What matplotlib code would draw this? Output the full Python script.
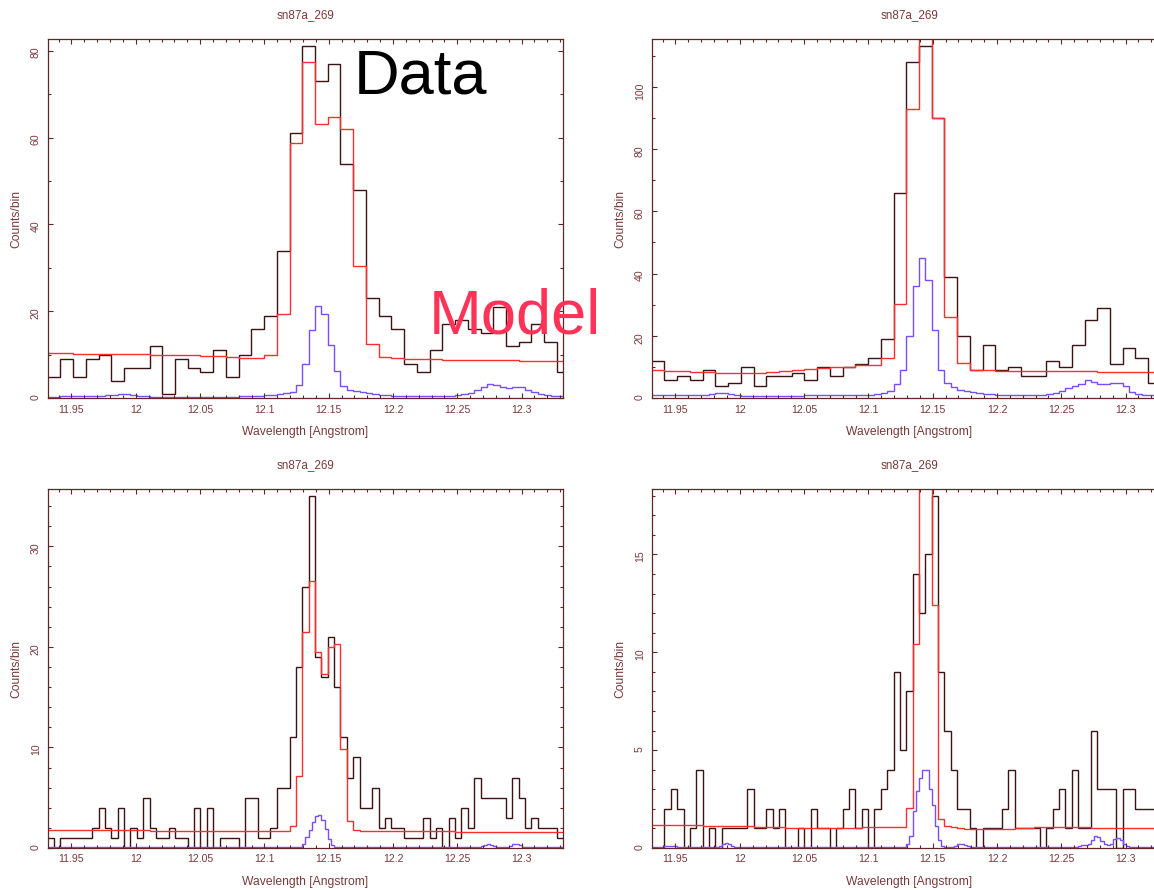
import numpy as np
import matplotlib.pyplot as plt
from matplotlib.ticker import FixedLocator, MultipleLocator

plt.rcParams['font.family'] = ['Liberation Sans', 'DejaVu Sans']

# wavelength grid (Angstrom)
wl_start = 11.9315
wl_stop = 12.332
top_bin = 0.0099            # data bins, upper panels
bottom_bin = top_bin / 2    # data bins, lower panels

title = "sn87a_269"
x_ticks = [11.95, 12.0, 12.05, 12.1, 12.15, 12.2, 12.25, 12.3]
x_tick_labels = ["11.95", "12", "12.05", "12.1", "12.15", "12.2", "12.25", "12.3"]

# upper left
data1 = [5, 9, 5, 9, 10, 4, 7, 7, 12, 1, 9, 7, 6, 11, 5, 10, 16, 19, 34, 61, 81,
         73, 77, 54, 48, 23, 19, 16, 8, 6, 11, 17, 18, 16, 15, 21, 12, 13, 17, 13, 6]
model1 = [10.4, 10.4, 10.3, 10.3, 10.2, 10.2, 10.1, 10.1, 10.0, 10.0, 9.9, 9.9, 9.8,
          9.7, 9.6, 9.3, 9.3, 10.0, 19.4, 58.7, 77.3, 63, 64.8, 62, 30.4, 12.5, 9.6,
          9.2, 9.1, 9.0, 9.0, 8.9, 8.9, 8.8, 8.8, 8.7, 8.7, 8.6, 8.6, 8.5, 8.5]
line1 = [0.4, 0.4, 0.5, 0.5, 0.5, 0.5, 0.5, 0.5, 0.6, 0.7,
         0.8, 1.0, 0.9, 0.7,
         0.5, 0.5, 0.4, 0.4, 0.4, 0.4, 0.4, 0.4, 0.4, 0.4,
         0.4, 0.4, 0.4, 0.4, 0.4, 0.4, 0.5, 0.5, 0.5, 0.6,
         0.7, 0.8,
         0.9, 1.2, 1.5, 3, 8, 15.8, 21.3, 19.4, 12.3, 6.2, 2.8, 1.9, 1.6, 1.4,
         1.2, 1.0, 0.8, 0.7, 0.6, 0.5, 0.5, 0.5, 0.5, 0.5, 0.5, 0.5,
         0.5, 0.6, 0.8, 0.9, 1.2, 1.8, 2.7, 3.2, 3.0, 2.5,
         2.3, 2.5, 2.7, 2.0, 1.5, 1.1, 0.7, 0.5, 0.5, 0.5]

# upper right
data2 = [12, 6, 7, 6, 9, 4, 5, 10, 4, 7, 7, 8, 6, 10, 7, 10, 11, 13, 19, 66, 108,
         113, 90, 39, 20, 9, 17, 9, 10, 7, 7, 12, 10, 17, 25, 29, 11, 16, 13, 5, 8]
model2 = [9.1, 8.9, 8.7, 8.5, 8.3, 8.1, 8.0, 8.0, 8.2, 8.5, 8.8, 9.1, 9.3, 9.6, 9.9,
          10.2, 10.6, 10.8, 12.8, 30.3, 92.7, 130, 90, 26.2, 11.2, 9.1,
          9.0, 8.9, 8.9, 8.8, 8.8, 8.7, 8.7, 8.6, 8.6, 8.5, 8.5, 8.4, 8.4, 8.3, 8.3]
line2 = [1.2, 1.2, 1.1, 1.1, 1.0, 1.0, 1.0, 1.0, 1.2, 1.4,
         1.6, 1.7, 1.5, 1.2,
         0.8, 0.8, 0.8, 0.8, 0.8, 0.8, 0.8, 0.8, 0.8, 0.8,
         0.9, 0.9, 0.9, 0.9, 1.0, 1.0, 1.0, 1.0, 1.1, 1.1,
         1.1, 1.4,
         1.8, 2.5, 4.5, 9, 20, 36, 45, 38, 22, 9, 5, 3.7, 2.7, 2.2,
         2.0, 1.6, 1.4, 1.3, 1.2, 1.1, 1.1, 1.1, 1.1, 1.1, 1.1, 1.2,
         1.4, 1.8, 2.4, 3.2, 4.0, 4.5, 6.0, 5.3, 4.6, 4.6,
         5.0, 5.0, 4.0, 2.1, 1.4, 1.1, 1.1, 1.1, 1.1, 1.1]

# lower left
data3 = [1, 0, 1, 1, 1, 1, 1, 2, 4, 2, 1, 4, 0, 2, 1, 5, 2, 1, 1, 2,
         1, 1, 0, 4, 0, 4, 0, 1, 1, 1, 0, 5, 5, 1, 1, 2, 6, 6, 11, 18,
         26, 35, 19, 17, 21, 16, 11, 7, 9, 4, 4, 6, 2, 3, 2, 2, 1, 1, 1, 3,
         1, 2, 0, 3, 1, 4, 2, 7, 5, 5, 5, 5, 3, 7, 5, 2, 3, 2, 2, 2, 1]
model3 = [1.82, 1.82, 1.81, 1.81, 1.80, 1.80, 1.79, 1.79, 1.78, 1.78, 1.77, 1.77,
          1.76, 1.76, 1.75, 1.75, 1.74, 1.74, 1.73, 1.73, 1.73, 1.72, 1.72, 1.72,
          1.71, 1.71, 1.71, 1.70, 1.70, 1.70, 1.70, 1.70, 1.70, 1.70, 1.70, 1.70,
          1.70, 1.72,
          2.2, 7.2, 21.5, 26.6, 19.5, 17.3, 20.0, 20.3, 9.8, 2.7,
          1.75, 1.72, 1.70, 1.70, 1.69, 1.69, 1.68, 1.68, 1.67, 1.67, 1.66, 1.66,
          1.66, 1.65, 1.65, 1.65, 1.64, 1.64, 1.64, 1.63, 1.63, 1.63, 1.62, 1.62,
          1.62, 1.61, 1.61, 1.61, 1.60, 1.60, 1.60, 1.60, 1.60]
line3 = ([0.05] * 80
         + [0.4, 1.1, 1.8, 2.6, 3.2, 3.3, 2.8, 1.9, 0.9, 0.3, 0.1]
         + [0.05] * 5 + [0.12, 0.12, 0.12] + [0.05] * 37
         + [0.15, 0.3, 0.4, 0.3, 0.15] + [0.05] * 4
         + [0.15, 0.35, 0.4, 0.25, 0.1] + [0.05] * 12)

# lower right
data4 = [0, 0, 2, 3, 2, 0, 1, 4, 0, 1, 0, 1, 1, 1, 1, 3, 1, 1, 2, 1,
         2, 0, 0, 1, 0, 2, 1, 1, 0, 1, 2, 3, 1, 2, 0,
         2, 3, 4, 9, 5, 8, 14, 12, 15, 18, 9, 6, 4, 2, 2,
         1, 0, 1, 1, 1, 2, 4, 1, 1, 1, 1, 0, 1, 2, 3, 1, 4, 1, 1, 6,
         3, 3, 3, 0, 3, 3, 2, 2, 2, 2, 2]
model4 = [1.20, 1.20, 1.19, 1.18, 1.17, 1.16, 1.16, 1.15, 1.14, 1.14, 1.13, 1.12,
          1.12, 1.11, 1.10, 1.10, 1.09, 1.09, 1.08, 1.08, 1.07, 1.00, 1.00, 1.00,
          1.00, 1.00, 1.00, 1.00, 1.00, 1.02, 1.03, 1.04, 1.04, 1.05, 1.05, 1.05,
          1.06, 1.06, 1.07, 1.07,
          2.06, 10.4, 25, 23, 12.4, 1.5,
          1.10, 1.05, 1.00, 0.98, 0.97, 0.96, 0.96, 0.96, 0.96, 0.97, 0.98, 1.00,
          1.02, 1.04, 1.05, 1.06, 1.07, 1.07, 1.07, 1.06, 1.06, 1.05, 1.05, 1.04,
          1.04, 1.03, 1.03, 1.02, 1.02, 1.01, 1.01, 1.00, 1.00, 1.00, 1.00]
line4 = ([0.05] * 4 + [0.08, 0.12, 0.12, 0.08, 0.05] + [0.05] * 12
         + [0.1, 0.2, 0.25, 0.2, 0.1] + [0.05] * 54
         + [0.2, 0.6, 1.9, 2.9, 3.6, 4.0, 4.0, 3.0, 2.2, 1.1, 0.4, 0.1]
         + [0.05] * 3 + [0.1, 0.2, 0.2, 0.15, 0.08] + [0.05] * 34
         + [0.1, 0.15, 0.15, 0.2, 0.4, 0.6, 0.55, 0.35, 0.2, 0.15]
         + [0.2, 0.45, 0.5, 0.4, 0.2, 0.1] + [0.05] * 12)

y_max = [82.6, 115.2, 35.7, 18.34]
y_major = [20, 20, 10, 5]
y_minor = [10, 10, 2, 1]

frame_col = "#5e2626"
label_col = "#7a3a3a"
data_col = "#3d1212"
model_col = "#ff2e2e"
line_col = "#7a4cff"

W, H = 1154, 890
fig = plt.figure(figsize=(W / 100, H / 100), dpi=100)

# axes boxes in pixels: left, top
boxes = [(47.7, 39.3), (651.7, 39.3), (47.7, 489.0), (651.7, 489.0)]
ax_w, ax_h = 515.0, 359.0

panels = [(data1, model1, line1, top_bin),
          (data2, model2, line2, top_bin),
          (data3, model3, line3, bottom_bin),
          (data4, model4, line4, bottom_bin)]

for n, ((px, py), (d, m, c, bw)) in enumerate(zip(boxes, panels)):
    ax = fig.add_axes([px / W, 1 - (py + ax_h) / H, ax_w / W, ax_h / H])
    e_data = wl_start + bw * np.arange(len(d) + 1)
    e_line = wl_start + bw / 2 * np.arange(len(c) + 1)
    ax.stairs(d, e_data, color=data_col, lw=1.0, baseline=None)
    ax.stairs(m, e_data, color=model_col, lw=1.0, baseline=None)
    ax.stairs(c, e_line, color=line_col, lw=1.0, baseline=None)

    ax.set_xlim(wl_start, wl_stop)
    ax.set_ylim(0, y_max[n])
    ax.xaxis.set_major_locator(FixedLocator(x_ticks))
    ax.set_xticklabels(x_tick_labels)
    ax.xaxis.set_minor_locator(MultipleLocator(0.01))
    ax.yaxis.set_major_locator(MultipleLocator(y_major[n]))
    ax.yaxis.set_minor_locator(MultipleLocator(y_minor[n]))

    for s in ax.spines.values():
        s.set_color(frame_col)
        s.set_linewidth(0.9)
    ax.tick_params(which='both', direction='in', top=True, right=True,
                   color=frame_col, width=0.8, labelcolor=label_col,
                   labelsize=7.6)
    ax.tick_params(which='major', length=3.6)
    ax.tick_params(which='minor', length=2.0)
    ax.tick_params(axis='x', pad=4.5)
    ax.tick_params(axis='y', labelrotation=90, pad=5.0)

    ax.set_title(title, fontsize=8.4, color=label_col, pad=15)
    ax.set_xlabel("Wavelength [Angstrom]", fontsize=8.7, color=label_col)
    ax.set_ylabel("Counts/bin", fontsize=8.7, color=label_col)
    ax.xaxis.set_label_coords(0.5, -0.078)
    ax.yaxis.set_label_coords(-0.05, 0.5)

fig.text(354 / W, 1 - 93.3 / H, "Data", fontsize=45.5, color="black",
         ha='left', va='baseline')
fig.text(428.3 / W, 1 - 333.3 / H, "Model", fontsize=45.5, color="#ff3358",
         ha='left', va='baseline')

fig.savefig("out.png", dpi=100)
